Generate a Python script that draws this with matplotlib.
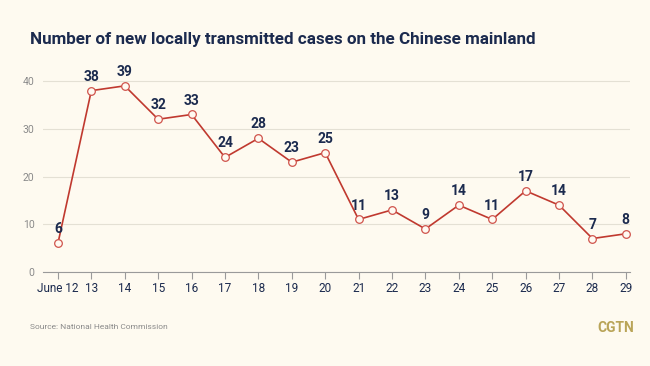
import matplotlib
matplotlib.use("Agg")
import matplotlib.pyplot as plt

days = ["June 12", "13", "14", "15", "16", "17", "18", "19", "20",
        "21", "22", "23", "24", "25", "26", "27", "28", "29"]
cases = [6, 38, 39, 32, 33, 24, 28, 23, 25, 11, 13, 9, 14, 11, 17, 14, 7, 8]
y_ticks = [0, 10, 20, 30, 40]

bg = "#fefaf0"
navy = "#1b2a4e"
red = "#c0392f"

plt.rcParams['font.family'] = ['Roboto', 'DejaVu Sans']

fig = plt.figure(figsize=(6.5, 3.66), dpi=100, facecolor=bg)
ax = fig.add_axes([0.066, 0.257, 0.903, 0.541], facecolor=bg)

x = list(range(len(days)))
ax.plot(x, cases, color=red, lw=1.2, marker="o", markersize=5.5,
        markerfacecolor="#fffaf2", markeredgecolor="#d0544c", markeredgewidth=0.9,
        zorder=3)

for xi, v in zip(x, cases):
    ax.annotate(str(v), (xi, v), xytext=(0, 5), textcoords="offset points",
                ha="center", va="bottom", fontsize=10, fontweight="bold",
                color=navy)

ax.set_xlim(-0.45, 17.12)
ax.set_ylim(0, 41.5)
ax.set_yticks(y_ticks)
ax.set_xticks(x)
ax.set_xticklabels(days)
ax.grid(axis="y", color="#e4e0d4", lw=0.8)
ax.set_axisbelow(True)
for s in ["top", "right", "left"]:
    ax.spines[s].set_visible(False)
ax.spines["bottom"].set_color("#9a9a9a")
ax.tick_params(axis="x", colors="#9a9a9a", length=5, width=0.8, labelcolor=navy,
               labelsize=8.5, pad=2)
ax.tick_params(axis="y", length=0, labelcolor="#8a8a8a", labelsize=7.5, pad=6)

title = fig.text(0.046, 0.893,
                 "Number of new locally transmitted cases on the Chinese mainland",
                 fontsize=15, fontweight="bold", color=navy, va="center")
# shrink title so it spans about the same width as the reference (x 30..537)
r = fig.canvas.get_renderer()
w = title.get_window_extent(r).width
title.set_fontsize(15 * 507 / w)

fig.text(0.046, 0.107, "Source: National Health Commission", fontsize=6,
         color="#8a8a8a", va="center")
fig.text(0.976, 0.104, "CGTN", fontsize=10, fontweight="bold", color="#b9a458",
         ha="right", va="center")

fig.savefig("out.png", dpi=100, facecolor=bg)
